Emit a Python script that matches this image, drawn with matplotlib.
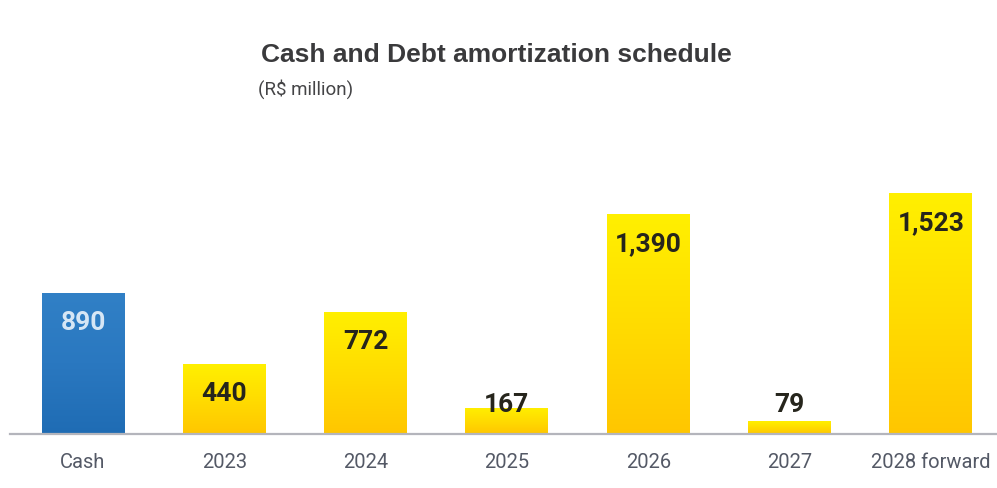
import numpy as np
import matplotlib.pyplot as plt
from matplotlib.colors import LinearSegmentedColormap

categories = ["Cash", "2023", "2024", "2025", "2026", "2027", "2028 forward"]
values = [890, 440, 772, 167, 1390, 79, 1523]
labels = ["890", "440", "772", "167", "1,390", "79", "1,523"]

NARROW = ["Roboto", "DejaVu Sans"]
REG = ["Liberation Sans", "DejaVu Sans"]

fig = plt.figure(figsize=(9.97, 4.88), dpi=100)
ax = fig.add_axes([10 / 997, 54 / 488, 987 / 997, 284 / 488])

x = np.arange(len(categories))
bars = ax.bar(x, values, width=0.587, color="none", edgecolor="none", zorder=2)

yellow = LinearSegmentedColormap.from_list("yel", ["#ffc600", "#ffdc00", "#fff000"])
blue = LinearSegmentedColormap.from_list("blu", ["#1f6cb4", "#2a78c0", "#3180c6"])
grad = np.linspace(0, 1, 256).reshape(-1, 1)

for i, b in enumerate(bars):
    x0, w, h = b.get_x(), b.get_width(), b.get_height()
    cmap = blue if i == 0 else yellow
    im = ax.imshow(grad, cmap=cmap, origin="lower", aspect="auto",
                   extent=[x0, x0 + w, 0, max(h, 1)], zorder=2)
    im.set_clip_path(b)

for i, (v, t) in enumerate(zip(values, labels)):
    y = v - 190 if v > 300 else 180
    col = "#d6e6f5" if i == 0 else "#26251c"
    ax.text(i, y, t, ha="center", va="center", fontsize=19, fontweight="bold",
            family=NARROW, color=col, zorder=3)

ax.set_xlim(-0.5166, 6.468)
ax.set_ylim(0, 1793)
ax.set_xticks(x)
ax.set_xticklabels(categories, family=NARROW, fontsize=14.5, color="#545966")
ax.tick_params(axis="x", length=0, pad=14)
ax.set_yticks([])
for s in ["top", "right", "left"]:
    ax.spines[s].set_visible(False)
ax.spines["bottom"].set_color("#b4b5bc")
ax.spines["bottom"].set_linewidth(1.6)
ax.spines["bottom"].set_zorder(4)

fig.text(496 / 997, 1 - 55 / 488, "Cash and Debt amortization schedule",
         ha="center", va="center", fontsize=19, fontweight="bold",
         family=REG, color="#3a3a3c")
fig.text(258 / 997, 1 - 89 / 488, "(R$ million)", ha="left", va="center",
         fontsize=13.5, family=NARROW, color="#444446")

fig.savefig("out.png", dpi=100)
